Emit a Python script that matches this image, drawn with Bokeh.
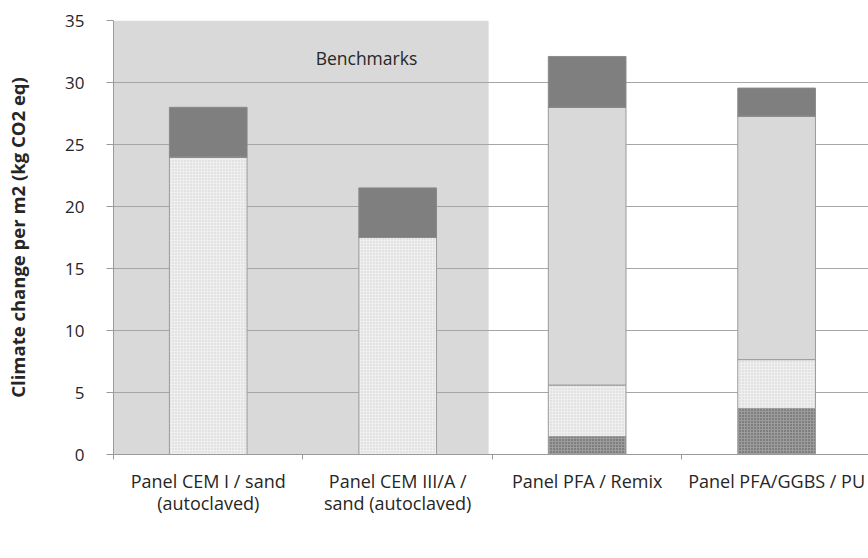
from bokeh.plotting import figure
from bokeh.models import ColumnDataSource, Range1d, FixedTicker, BoxAnnotation, Label, Legend
from bokeh.embed import file_html
from bokeh.resources import INLINE

categories = ["Panel CEM I / sand\n(autoclaved)", "Panel CEM III/A /\nsand (autoclaved)",
              "Panel PFA / Remix", "Panel PFA/GGBS / PU"]
series = ["Aggregate", "Binder", "Activators", "Curing", "Transport"]
aggregate = [0.0, 0.0, 1.45, 3.7]
binder = [24.0, 17.5, 4.15, 3.95]
activators = [0.0, 0.0, 22.4, 19.65]
curing = [0.0, 0.0, 0.0, 0.0]
transport = [4.0, 4.0, 4.1, 2.25]
y_ticks = [0, 5, 10, 15, 20, 25, 30, 35]

FONT = "Open Sans"
TXT = "#262626"
xs = [i + 0.5 for i in range(len(categories))]
source = ColumnDataSource(dict(x=xs, Aggregate=aggregate, Binder=binder,
                               Activators=activators, Curing=curing, Transport=transport))

p = figure(frame_width=755, frame_height=434, output_backend="svg", toolbar_location=None,
           x_range=Range1d(0, 3.985), y_range=Range1d(0, 35),
           min_border_left=113, min_border_right=0, min_border_top=20, min_border_bottom=0)
p.outline_line_color = None
p.background_fill_color = "white"

bench = BoxAnnotation(left=0, right=1.98, fill_color="#d9d9d9", fill_alpha=1.0,
                      line_color=None, level="image")
p.add_layout(bench)

fills = ["#9c9c9c", "#efefef", "#d9d9d9", "#7f7f7f", "#7f7f7f"]
hatch_colors = ["#505050", "#cfcfcf", None, None, None]
hatch_patterns = ["dot", "dot", None, None, None]
line_colors = ["#9a9a9a", "#9a9a9a", "#9a9a9a", "#7f7f7f", "#8a8a8a"]
renderers = p.vbar_stack(series, x="x", width=0.41, source=source,
                         fill_color=fills, line_color=line_colors, line_width=1)
for r, hp, hc in zip(renderers, hatch_patterns, hatch_colors):
    if hp:
        r.glyph.hatch_pattern = hp
        r.glyph.hatch_color = hc
        r.glyph.hatch_scale = 3
        r.glyph.hatch_weight = 1.2

p.add_layout(Label(x=1.335, y=32.0, text="Benchmarks", text_align="center",
                   text_baseline="middle", text_font=FONT, text_font_size="17.5px",
                   text_color=TXT))

# y axis
p.yaxis.ticker = FixedTicker(ticks=y_ticks)
p.yaxis.axis_label = "Climate change per m2 (kg CO2 eq)"
p.yaxis.axis_label_text_font = FONT
p.yaxis.axis_label_text_font_style = "bold"
p.yaxis.axis_label_text_font_size = "18.5px"
p.yaxis.axis_label_text_color = TXT
p.yaxis.axis_label_standoff = 32
p.yaxis.major_label_text_font = FONT
p.yaxis.major_label_text_font_size = "17px"
p.yaxis.major_label_text_color = TXT
p.yaxis.axis_line_color = "#9a9a9a"
p.yaxis.major_tick_line_color = "#9a9a9a"
p.yaxis.major_tick_in = 0
p.yaxis.major_tick_out = 7
p.yaxis.minor_tick_line_color = None
p.yaxis.major_label_standoff = 22

# x axis: labels at category centres, ticks at category boundaries
p.xaxis.ticker = FixedTicker(ticks=xs, minor_ticks=list(range(len(categories) + 1)))
p.xaxis.major_label_overrides = {x: c for x, c in zip(xs, categories)}
p.xaxis.major_label_text_font = FONT
p.xaxis.major_label_text_font_size = "18px"
p.xaxis.major_label_text_line_height = 0.95
p.xaxis.major_label_text_color = TXT
p.xaxis.axis_line_color = "#9a9a9a"
p.xaxis.major_tick_line_color = None
p.xaxis.major_tick_in = 0
p.xaxis.major_tick_out = 5
p.xaxis.minor_tick_line_color = "#9a9a9a"
p.xaxis.minor_tick_in = 0
p.xaxis.minor_tick_out = 5
p.xaxis.major_label_standoff = 9

p.xgrid.grid_line_color = None
p.ygrid.grid_line_color = "#a6a6a6"
p.ygrid.grid_line_width = 1

legend = Legend(items=[(s, [r]) for s, r in zip(series, renderers)],
                orientation="horizontal", location="top_center",
                label_text_font=FONT, label_text_font_size="17px", label_text_color=TXT,
                glyph_width=13, glyph_height=13, spacing=30, label_standoff=4,
                border_line_color=None, background_fill_alpha=0, margin=6, padding=0)
p.add_layout(legend, "below")

open("out.html", "w").write(file_html(p, INLINE))
